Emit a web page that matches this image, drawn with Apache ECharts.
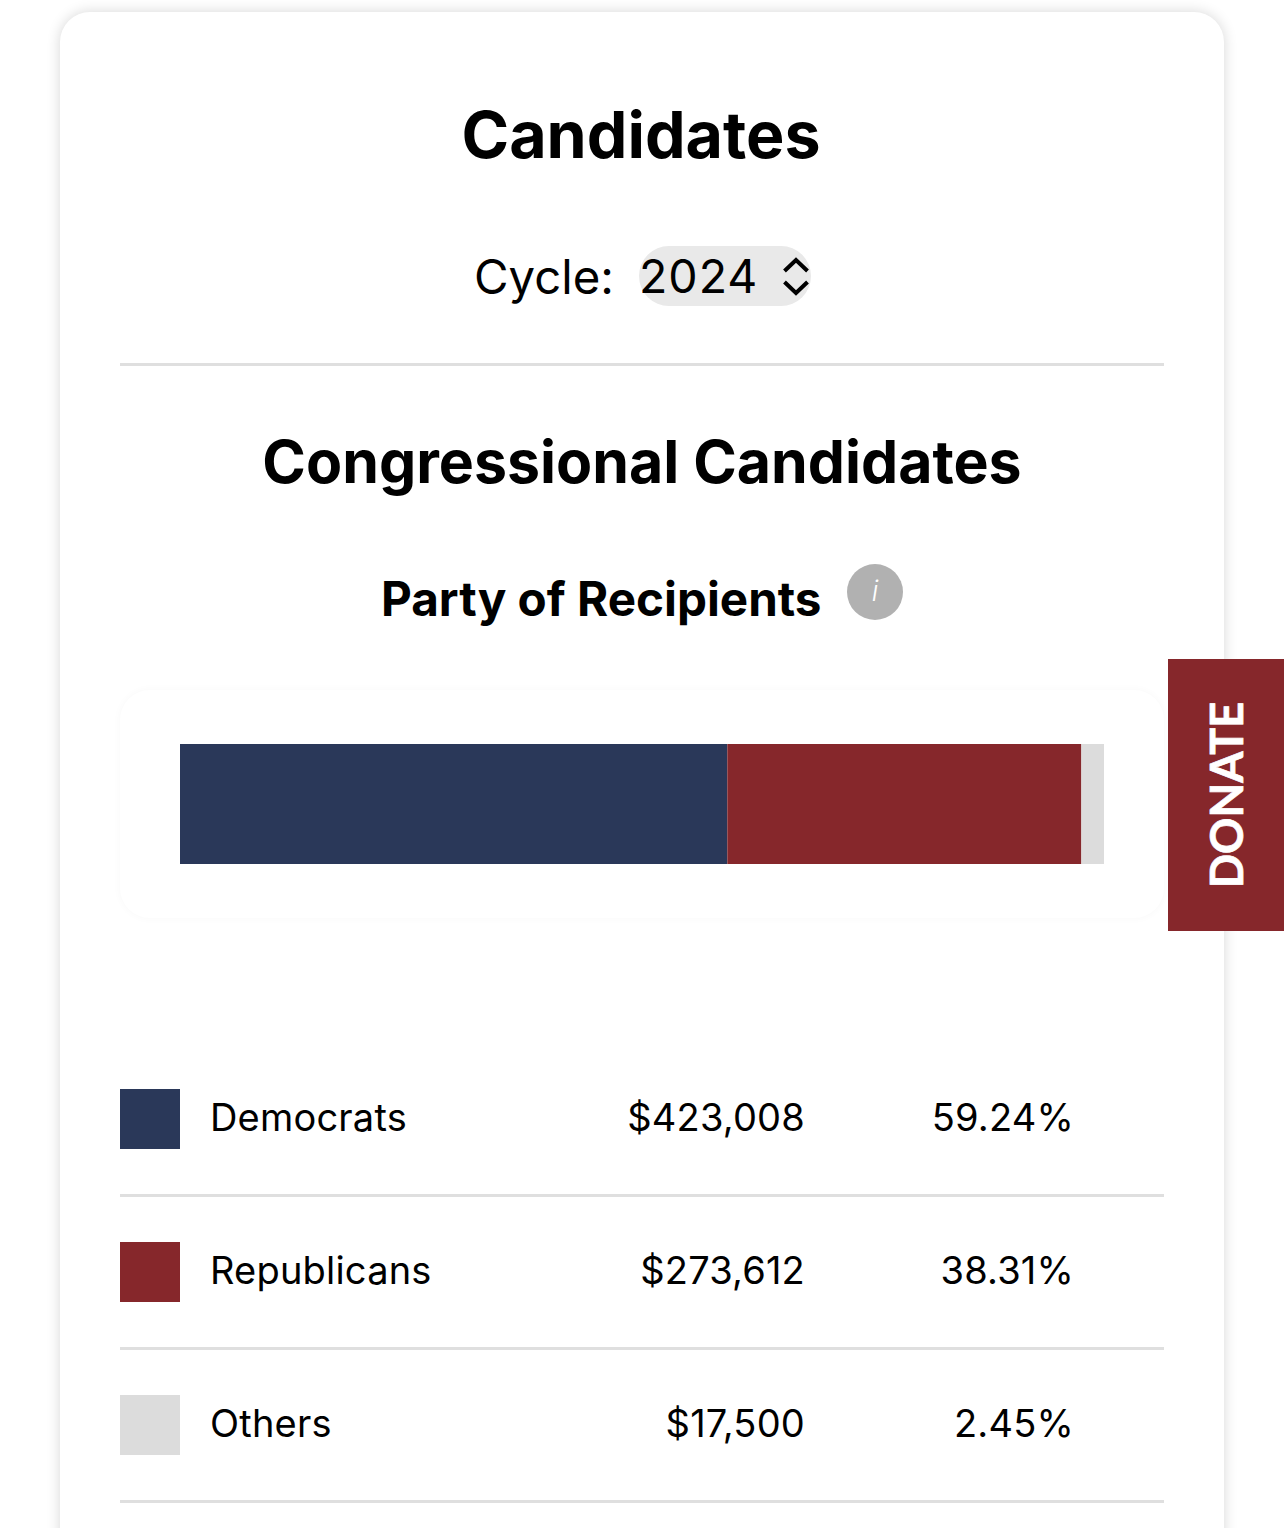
<!DOCTYPE html>
<html><head><meta charset="utf-8">
<script src="https://cdn.jsdelivr.net/npm/echarts@6/dist/echarts.min.js"></script>
<style>
html,body{margin:0;padding:0;background:#fff;width:1284px;height:1528px;overflow:hidden;font-family:Inter,sans-serif;color:#000}
.abs{position:absolute;white-space:nowrap;line-height:1}
#card{position:absolute;left:60px;top:12px;width:1164px;height:1600px;background:#fff;border-radius:30px;box-shadow:0 0 14px rgba(0,0,0,.16)}
#chartBox{position:absolute;left:120px;top:690px;width:1044px;height:228px;border-radius:30px;box-shadow:0 0 8px rgba(0,0,0,.03);background:#fff}
#chart{width:100%;height:100%}
.rule{position:absolute;left:120px;width:1044px;height:3px;background:#dfdfdf}
.sw{position:absolute;left:120px;width:60px;height:60px}
.c{text-align:center;left:60px;width:1164px}
.name,.val,.pct{font-size:38px;letter-spacing:.2px}
.val{right:479px}.pct{right:210px}.name{left:210px}
#sel{position:absolute;left:639px;top:246px;width:172px;height:60px;border-radius:30px;background:#e9e9e9}
#donate{position:absolute;left:1168px;top:659px;width:116px;height:272px;background:#86272b}
#donate span{position:absolute;left:58px;top:136px;transform:translate(-50%,-50%) rotate(-90deg);color:#fff;font:700 45px Lato,sans-serif;white-space:nowrap;-webkit-text-stroke:.7px #fff}
#info{position:absolute;left:847px;top:564px;width:56px;height:56px;border-radius:50%;background:#b1b1b1;color:#fff;font:italic 300 28px/54px Inter,sans-serif;text-align:center}
</style></head><body>
<div id="card"></div>
<div class="abs c" style="top:103px;left:59px;font-size:64.5px;font-weight:700">Candidates</div>
<div class="abs" style="left:474px;top:253px;font-size:47.3px">Cycle:</div>
<div id="sel"></div>
<div class="abs" style="left:639px;top:253px;font-size:46.5px;letter-spacing:1px">2024</div>
<svg style="position:absolute;left:780px;top:256px" width="32" height="42" viewBox="0 0 32 42"><path d="M4.5 15 L16 4 L27.5 15 M4.5 26 L16 37 L27.5 26" fill="none" stroke="#000" stroke-width="4"/></svg>
<div class="rule" style="top:363px"></div>
<div class="abs c" style="top:432px;font-size:59px;font-weight:700">Congressional Candidates</div>
<div class="abs" style="left:381px;top:575px;font-size:47.6px;font-weight:700">Party of Recipients</div>
<div id="info">i</div>
<div id="chartBox"><div id="chart"></div></div>
<div id="donate"><span>DONATE</span></div>
<div id="rows"></div>
<script>
const categories = ["Democrats", "Republicans", "Others"];
const amounts = [423008, 273612, 17500];
const amountLabels = ["$423,008", "$273,612", "$17,500"];
const percentLabels = ["59.24%", "38.31%", "2.45%"];
const colors = ["#2a3859", "#86272b", "#dcdcdc"];
const total = amounts.reduce((a, b) => a + b, 0);

const chart = echarts.init(document.getElementById('chart'), null, {renderer: 'canvas'});
chart.setOption({
  animation: false,
  grid: {left: 60, right: 60, top: 54, height: 120},
  xAxis: {type: 'value', min: 0, max: total, show: false},
  yAxis: {type: 'category', data: ['Party'], show: false},
  series: categories.map((name, i) => ({
    name, type: 'bar', stack: 'party', barWidth: 120,
    data: [amounts[i]], itemStyle: {color: colors[i]}, silent: true
  }))
});

const rows = document.getElementById('rows');
const tops = [1089, 1242, 1395];
categories.forEach((name, i) => {
  const y = tops[i];
  rows.insertAdjacentHTML('beforeend',
    `<div class="sw" style="top:${y}px;background:${colors[i]}"></div>
     <div class="abs name" style="top:${y + 9}px">${name}</div>
     <div class="abs val" style="top:${y + 9}px">${amountLabels[i]}</div>
     <div class="abs pct" style="top:${y + 9}px">${percentLabels[i]}</div>
     <div class="rule" style="top:${y + 105}px"></div>`);
});
</script>
</body></html>
